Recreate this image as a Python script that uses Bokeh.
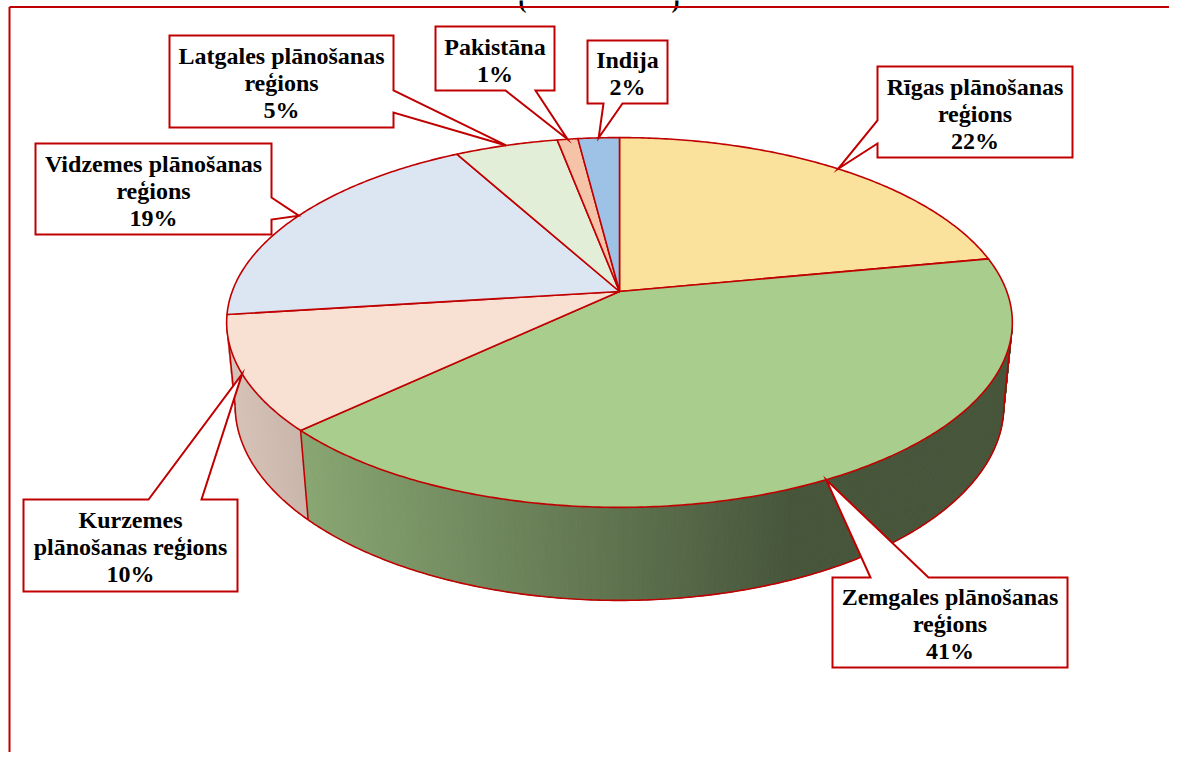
import numpy as np
from bokeh.plotting import figure
from bokeh.models import Range1d, ColumnDataSource
from bokeh.embed import file_html
from bokeh.resources import INLINE
from bokeh.core.properties import value

# ---------------- data ----------------
categories = ["Rīgas plānošanas reģions", "Zemgales plānošanas reģions",
              "Kurzemes plānošanas reģions", "Vidzemes plānošanas reģions",
              "Latgales plānošanas reģions", "Pakistāna", "Indija"]
label_text = ["Rīgas plānošanas\nreģions", "Zemgales plānošanas\nreģions",
              "Kurzemes\nplānošanas reģions", "Vidzemes plānošanas\nreģions",
              "Latgales plānošanas\nreģions", "Pakistāna", "Indija"]
shares = [22, 41, 10, 19, 5, 1, 2]
top_colors = ["#FAE29C", "#A9CD8D", "#F8E0D3", "#DCE6F2", "#E3EED9", "#F5C3A7", "#9DC2E5"]
title_marks = ["(", ")"]

# ---------------- layout / style ----------------
RED = "#C00000"
X0, Y0 = 619.0, 291.0          # pie apex on page
SIN_A, COS_A = 0.464, 0.886    # tilt
CAM = 5.288                    # camera distance (radius = 1)
FOC = 2048.0                   # focal scale
THICK = 0.245                  # pie thickness

# callout boxes: (left, top, right, bottom, side, base_a, base_b)
boxes = [
    (877, 66, 1072, 157, "left", 120, 143),
    (832, 577, 1067, 667, "top", 870, 928),
    (23, 499, 237, 591, "top", 148, 201),
    (35, 143, 271, 234, "right", 197, 219),
    (169, 35, 393, 127, "right", 90, 112),
    (435, 26, 554, 90, "bottom", 505, 535),
    (587, 40, 667, 103, "bottom", 603, 622),
]
FONT = value("Liberation Serif")
FONT_PX = 24
LINE_GAP = 27
W, H = 1169, 752


def proj(phi, z=0.0):
    phi = np.asarray(phi, dtype=float)
    x = np.sin(phi)
    y = np.cos(phi)
    depth = y * COS_A - z * SIN_A + CAM
    X = X0 + FOC * x / depth
    Y = Y0 - FOC * (y * SIN_A + z * COS_A) / depth
    return X, Y


def hex2rgb(h):
    h = h.lstrip("#")
    return tuple(int(h[i:i + 2], 16) for i in (0, 2, 4))


def rgb2hex(c):
    return "#%02x%02x%02x" % tuple(int(max(0, min(255, round(v)))) for v in c)


def shade(col, X):
    t = np.clip((X - 230.0) / (790.0 - 230.0), 0, 1)
    f = 0.87 - (0.87 - 0.42) * t
    r, g, b = hex2rgb(col)
    return rgb2hex((r * f, g * f, b * f))


total = float(sum(shares))
cum = np.concatenate([[0.0], np.cumsum(shares)]) / total * 2 * np.pi

p = figure(width=W, height=H, x_range=Range1d(0, W), y_range=Range1d(H, 0),
           output_backend="svg", toolbar_location=None, min_border=0)
p.axis.visible = False
p.grid.visible = False
p.outline_line_color = None
p.background_fill_color = "white"
p.border_fill_color = "white"

# ---------------- side (visible front) ----------------
phi_r = np.arccos(-COS_A / CAM)
phi_l = 2 * np.pi - phi_r
sxs, sys_, scol = [], [], []
for i in range(len(shares)):
    a, b = max(cum[i], phi_r), min(cum[i + 1], phi_l)
    if b <= a:
        continue
    n = max(2, int((b - a) / 0.01))
    ph = np.linspace(a, b, n + 1)
    for j in range(n):
        p1, p2 = ph[j], ph[j + 1]
        tx, ty = proj([p1, p2], 0.0)
        bx, by = proj([p2, p1], -THICK)
        xs = list(tx) + list(bx)
        ys = list(ty) + list(by)
        sxs.append(xs)
        sys_.append(ys)
        scol.append(shade(top_colors[i], float(np.mean(xs))))
p.patches("xs", "ys", source=ColumnDataSource(dict(xs=sxs, ys=sys_, c=scol)),
          fill_color="c", line_color="c", line_width=1)

# side outlines
ph = np.linspace(phi_r, phi_l, 300)
bx, by = proj(ph, -THICK)
p.line(bx, by, line_color=RED, line_width=1.6)
vert = [phi_r, phi_l] + [c for c in cum if phi_r < c < phi_l]
for v in vert:
    vx0, vy0 = proj(v, 0.0)
    vx1, vy1 = proj(v, -THICK)
    p.line([float(vx0), float(vx1)], [float(vy0), float(vy1)], line_color=RED, line_width=1.6)

# ---------------- top face ----------------
wxs, wys = [], []
for i in range(len(shares)):
    n = max(4, int((cum[i + 1] - cum[i]) / 0.01))
    ph = np.linspace(cum[i], cum[i + 1], n + 1)
    ax_, ay_ = proj(ph, 0.0)
    wxs.append([X0] + list(ax_))
    wys.append([Y0] + list(ay_))
p.patches("xs", "ys", source=ColumnDataSource(dict(xs=wxs, ys=wys, c=top_colors)),
          fill_color="c", line_color=RED, line_width=1.6, line_join="round")

# ---------------- callouts ----------------
cxs, cys, tx_, ty_, tt = [], [], [], [], []
for i, (L, T, R_, B, side, a, b) in enumerate(boxes):
    mid = (cum[i] + cum[i + 1]) / 2
    kx, ky = proj(mid, 0.0)
    kx, ky = float(kx), float(ky)
    if side == "top":
        pts = [(L, T), (a, T), (kx, ky), (b, T), (R_, T), (R_, B), (L, B)]
    elif side == "right":
        pts = [(L, T), (R_, T), (R_, a), (kx, ky), (R_, b), (R_, B), (L, B)]
    elif side == "bottom":
        pts = [(L, T), (R_, T), (R_, B), (b, B), (kx, ky), (a, B), (L, B)]
    else:
        pts = [(L, T), (R_, T), (R_, B), (L, B), (L, b), (kx, ky), (L, a)]
    cxs.append([q[0] for q in pts])
    cys.append([q[1] for q in pts])
    lines = label_text[i].split("\n") + ["%d%%" % shares[i]]
    cy = (T + B) / 2 + 1.5
    cx = (L + R_) / 2
    nl = len(lines)
    for k, s in enumerate(lines):
        tx_.append(cx)
        ty_.append(cy + (k - (nl - 1) / 2) * LINE_GAP)
        tt.append(s)
p.patches("xs", "ys", source=ColumnDataSource(dict(xs=cxs, ys=cys)),
          fill_color="white", line_color=RED, line_width=2, line_join="miter")
p.text("x", "y", text="t", source=ColumnDataSource(dict(x=tx_, y=ty_, t=tt)),
       text_font=FONT, text_font_style="bold",
       text_font_size="%dpx" % FONT_PX, text_color="black",
       text_align="center", text_baseline="middle")

# title remnants (cut off at the top edge, as in the original)
p.text([522, 675], [-1, -1], text=title_marks, text_font=FONT, text_font_style="bold",
       text_font_size="%dpx" % FONT_PX, text_color="black",
       text_align="center", text_baseline="alphabetic")

# chart border (left and top edges visible)
p.line([9, 9], [H, 6.5], line_color=RED, line_width=2)
p.line([9, W], [6.5, 6.5], line_color=RED, line_width=2)

open("out.html", "w").write(file_html(p, INLINE))
